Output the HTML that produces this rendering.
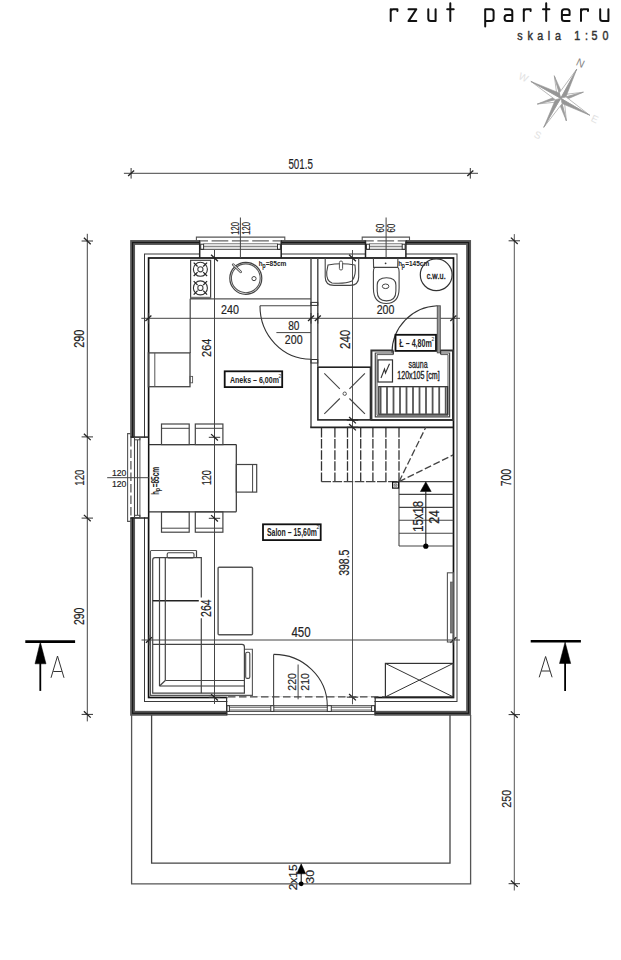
<!DOCTYPE html>
<html><head><meta charset="utf-8"><style>
html,body{margin:0;padding:0;background:#fff;}
svg{display:block;}
text{font-family:"Liberation Sans",sans-serif;}
</style></head><body>
<svg width="621" height="960" viewBox="0 0 621 960">
<rect x="0" y="0" width="621" height="960" fill="#fff"/>
<path transform="translate(390.70,21.1)" d="M0,0 V-11.8 M0,-9.3 Q0,-11.8 2.5,-11.8 H6.70 V-10.2" stroke="#111" stroke-width="2.0" fill="none" stroke-linejoin="round" stroke-linecap="round"/>
<path transform="translate(408.50,21.1)" d="M0,-11.8 H7.80 L0,0 H7.80" stroke="#111" stroke-width="2.0" fill="none" stroke-linejoin="round" stroke-linecap="round"/>
<path transform="translate(428.30,21.1)" d="M0,-11.8 V-2.5 Q0,0 2.5,0 H7.30 M7.30,-11.8 V0" stroke="#111" stroke-width="2.0" fill="none" stroke-linejoin="round" stroke-linecap="round"/>
<path transform="translate(447.20,21.1)" d="M3.10,-17.8 V0 M0,-11.8 H6.50" stroke="#111" stroke-width="2.0" fill="none" stroke-linejoin="round" stroke-linecap="round"/>
<path transform="translate(485.20,21.1)" d="M0,5.5 V-11.8 H5.90 Q8.40,-11.8 8.40,-9.3 V-2.5 Q8.40,0 5.90,0 H0" stroke="#111" stroke-width="2.0" fill="none" stroke-linejoin="round" stroke-linecap="round"/>
<path transform="translate(504.60,21.1)" d="M0.3,-11.8 H5.20 Q7.70,-11.8 7.70,-9.3 V0 H2.5 Q0,0 0,-2.5 V-3.6 Q0,-6.1 2.5,-6.1 H7.70" stroke="#111" stroke-width="2.0" fill="none" stroke-linejoin="round" stroke-linecap="round"/>
<path transform="translate(523.80,21.1)" d="M0,0 V-11.8 M0,-9.3 Q0,-11.8 2.5,-11.8 H6.80 V-10.2" stroke="#111" stroke-width="2.0" fill="none" stroke-linejoin="round" stroke-linecap="round"/>
<path transform="translate(543.00,21.1)" d="M3.20,-17.8 V0 M0,-11.8 H6.40" stroke="#111" stroke-width="2.0" fill="none" stroke-linejoin="round" stroke-linecap="round"/>
<path transform="translate(561.90,21.1)" d="M7.70,0 H2.5 Q0,0 0,-2.5 V-9.3 Q0,-11.8 2.5,-11.8 H5.20 Q7.70,-11.8 7.70,-9.3 V-6.1 H0" stroke="#111" stroke-width="2.0" fill="none" stroke-linejoin="round" stroke-linecap="round"/>
<path transform="translate(581.00,21.1)" d="M0,0 V-11.8 M0,-9.3 Q0,-11.8 2.5,-11.8 H7.00 V-10.2" stroke="#111" stroke-width="2.0" fill="none" stroke-linejoin="round" stroke-linecap="round"/>
<path transform="translate(600.20,21.1)" d="M0,-11.8 V-2.5 Q0,0 2.5,0 H8.20 M8.20,-11.8 V0" stroke="#111" stroke-width="2.0" fill="none" stroke-linejoin="round" stroke-linecap="round"/>
<text transform="translate(519.85,39.8) scale(0.85,1)" text-anchor="middle" font-size="12.6" fill="#333" stroke="#333" stroke-width="0.45">s</text>
<text transform="translate(530.10,39.8) scale(0.85,1)" text-anchor="middle" font-size="12.6" fill="#333" stroke="#333" stroke-width="0.45">k</text>
<text transform="translate(540.20,39.8) scale(0.85,1)" text-anchor="middle" font-size="12.6" fill="#333" stroke="#333" stroke-width="0.45">a</text>
<text transform="translate(548.90,39.8) scale(0.85,1)" text-anchor="middle" font-size="12.6" fill="#333" stroke="#333" stroke-width="0.45">l</text>
<text transform="translate(557.90,39.8) scale(0.85,1)" text-anchor="middle" font-size="12.6" fill="#333" stroke="#333" stroke-width="0.45">a</text>
<text transform="translate(577.20,39.8) scale(0.85,1)" text-anchor="middle" font-size="12.6" fill="#333" stroke="#333" stroke-width="0.45">1</text>
<text transform="translate(586.40,39.8) scale(0.85,1)" text-anchor="middle" font-size="12.6" fill="#333" stroke="#333" stroke-width="0.45">:</text>
<text transform="translate(594.50,39.8) scale(0.85,1)" text-anchor="middle" font-size="12.6" fill="#333" stroke="#333" stroke-width="0.45">5</text>
<text transform="translate(605.40,39.8) scale(0.85,1)" text-anchor="middle" font-size="12.6" fill="#333" stroke="#333" stroke-width="0.45">0</text>
<polygon points="560.70,98.30 557.03,96.26 554.30,75.80" stroke="#a8a8a8" stroke-width="0.8" fill="#fff" />
<polygon points="560.70,98.30 562.74,94.63 554.30,75.80" stroke="#9c9c9c" stroke-width="0.6" fill="#9c9c9c" />
<polygon points="560.70,98.30 562.79,94.66 583.30,92.20" stroke="#a8a8a8" stroke-width="0.8" fill="#fff" />
<polygon points="560.70,98.30 564.34,100.39 583.30,92.20" stroke="#9c9c9c" stroke-width="0.6" fill="#9c9c9c" />
<polygon points="560.70,98.30 564.31,100.45 566.40,120.90" stroke="#a8a8a8" stroke-width="0.8" fill="#fff" />
<polygon points="560.70,98.30 558.55,101.91 566.40,120.90" stroke="#9c9c9c" stroke-width="0.6" fill="#9c9c9c" />
<polygon points="560.70,98.30 558.52,101.89 537.40,104.00" stroke="#a8a8a8" stroke-width="0.8" fill="#fff" />
<polygon points="560.70,98.30 557.11,96.12 537.40,104.00" stroke="#9c9c9c" stroke-width="0.6" fill="#9c9c9c" />
<polygon points="560.70,98.30 559.16,93.02 576.80,69.00" stroke="#a8a8a8" stroke-width="0.8" fill="#fff" />
<polygon points="560.70,98.30 565.98,96.76 576.80,69.00" stroke="#969696" stroke-width="0.6" fill="#969696" />
<polygon points="560.70,98.30 566.02,96.90 589.70,115.20" stroke="#a8a8a8" stroke-width="0.8" fill="#fff" />
<polygon points="560.70,98.30 562.10,103.62 589.70,115.20" stroke="#969696" stroke-width="0.6" fill="#969696" />
<polygon points="560.70,98.30 562.10,103.62 543.80,127.30" stroke="#a8a8a8" stroke-width="0.8" fill="#fff" />
<polygon points="560.70,98.30 555.38,99.70 543.80,127.30" stroke="#969696" stroke-width="0.6" fill="#969696" />
<polygon points="560.70,98.30 555.40,99.76 530.90,81.40" stroke="#a8a8a8" stroke-width="0.8" fill="#fff" />
<polygon points="560.70,98.30 559.24,93.00 530.90,81.40" stroke="#969696" stroke-width="0.6" fill="#969696" />
<text x="577" y="67" font-size="11" fill="#888" transform="rotate(25 581 62)">N</text>
<text x="519" y="81" font-size="10" fill="#e2e2e2" transform="rotate(25 524 77)">W</text>
<text x="592" y="123" font-size="10" fill="#e2e2e2" transform="rotate(25 596 118)">E</text>
<text x="535" y="139" font-size="10" fill="#e2e2e2" transform="rotate(25 539 134)">S</text>
<line x1="123.90" y1="173.30" x2="478.00" y2="173.30" stroke="#444" stroke-width="1" />
<line x1="131.10" y1="168.00" x2="131.10" y2="178.60" stroke="#333" stroke-width="1" />
<line x1="128.10" y1="176.10" x2="134.10" y2="170.50" stroke="#222" stroke-width="1.3" />
<line x1="470.30" y1="168.00" x2="470.30" y2="178.60" stroke="#333" stroke-width="1" />
<line x1="467.30" y1="176.10" x2="473.30" y2="170.50" stroke="#222" stroke-width="1.3" />
<text transform="translate(288.80,169.30) scale(0.693,1)" x="-0.57 7.29 15.14 23.00 26.92" y="0" font-size="14.12" fill="#222" font-weight="normal" stroke="#222" stroke-width="0.18" >501.5</text>
<line x1="87.30" y1="233.80" x2="87.30" y2="721.40" stroke="#444" stroke-width="1" />
<line x1="81.60" y1="241.00" x2="93.00" y2="241.00" stroke="#333" stroke-width="1" />
<line x1="83.90" y1="237.80" x2="90.70" y2="244.20" stroke="#222" stroke-width="1.3" />
<line x1="81.60" y1="436.90" x2="93.00" y2="436.90" stroke="#333" stroke-width="1" />
<line x1="83.90" y1="433.70" x2="90.70" y2="440.10" stroke="#222" stroke-width="1.3" />
<line x1="81.60" y1="518.10" x2="93.00" y2="518.10" stroke="#333" stroke-width="1" />
<line x1="83.90" y1="514.90" x2="90.70" y2="521.30" stroke="#222" stroke-width="1.3" />
<line x1="81.60" y1="714.40" x2="93.00" y2="714.40" stroke="#333" stroke-width="1" />
<line x1="83.90" y1="711.20" x2="90.70" y2="717.60" stroke="#222" stroke-width="1.3" />
<text transform="translate(84.00,347.30) rotate(-90) scale(0.776,1)" x="-0.71 7.14 15.00" y="0" font-size="14.12" fill="#222" font-weight="normal" stroke="#222" stroke-width="0.18" >290</text>
<text transform="translate(84.00,485.00) rotate(-90) scale(0.720,1)" x="-1.02 6.44 13.90" y="0" font-size="13.42" fill="#222" font-weight="normal" stroke="#222" stroke-width="0.18" >120</text>
<text transform="translate(84.20,624.50) rotate(-90) scale(0.725,1)" x="-0.72 7.29 15.30" y="0" font-size="14.41" fill="#222" font-weight="normal" stroke="#222" stroke-width="0.18" >290</text>
<line x1="514.30" y1="234.10" x2="514.30" y2="890.50" stroke="#555" stroke-width="1" />
<line x1="508.60" y1="240.80" x2="520.00" y2="240.80" stroke="#333" stroke-width="1" />
<line x1="510.90" y1="237.60" x2="517.70" y2="244.00" stroke="#222" stroke-width="1.3" />
<line x1="508.60" y1="714.60" x2="520.00" y2="714.60" stroke="#333" stroke-width="1" />
<line x1="510.90" y1="711.40" x2="517.70" y2="717.80" stroke="#222" stroke-width="1.3" />
<line x1="508.60" y1="883.70" x2="520.00" y2="883.70" stroke="#333" stroke-width="1" />
<line x1="510.90" y1="880.50" x2="517.70" y2="886.90" stroke="#222" stroke-width="1.3" />
<text transform="translate(511.10,485.80) rotate(-90) scale(0.755,1)" x="-0.71 6.99 14.69" y="0" font-size="13.84" fill="#222" font-weight="normal" stroke="#222" stroke-width="0.18" >700</text>
<text transform="translate(511.40,807.20) rotate(-90) scale(0.781,1)" x="-0.69 6.93 14.55" y="0" font-size="13.70" fill="#222" font-weight="normal" stroke="#222" stroke-width="0.18" >250</text>
<line x1="25.30" y1="641.60" x2="75.10" y2="641.60" stroke="#000" stroke-width="2.6" />
<polygon points="40.30,642.00 35.00,663.80 46.00,663.80" stroke="#000" stroke-width="0.5" fill="#000" />
<line x1="40.30" y1="663.00" x2="40.30" y2="690.90" stroke="#000" stroke-width="1.8" />
<polyline points="51.00,677.80 57.50,656.00 64.00,677.80" stroke="#333" stroke-width="1" fill="none" />
<line x1="53.30" y1="671.50" x2="61.80" y2="671.50" stroke="#333" stroke-width="1" />
<line x1="530.70" y1="641.30" x2="580.90" y2="641.30" stroke="#000" stroke-width="2.6" />
<polygon points="565.10,642.00 559.50,663.50 570.70,663.50" stroke="#000" stroke-width="0.5" fill="#000" />
<line x1="565.10" y1="663.00" x2="565.10" y2="690.90" stroke="#000" stroke-width="1.8" />
<polyline points="539.20,677.30 545.60,656.50 552.10,677.30" stroke="#333" stroke-width="1" fill="none" />
<line x1="541.30" y1="671.00" x2="550.00" y2="671.00" stroke="#333" stroke-width="1" />
<rect x="132.60" y="242.50" width="336.00" height="470.80" stroke="#555" stroke-width="4.9" fill="none" />
<rect x="132.60" y="242.50" width="336.00" height="470.80" stroke="#1a1a1a" stroke-width="1.2" fill="none" />
<rect x="144.50" y="254.00" width="312.50" height="447.50" stroke="#3a3a3a" stroke-width="1.0" fill="none" />
<rect x="148.60" y="258.00" width="304.90" height="439.50" stroke="#111" stroke-width="1.7" fill="none" />
<polyline points="131.60,715.00 131.60,883.80 470.60,883.80 470.60,715.00" stroke="#555" stroke-width="1.3" fill="none" />
<polyline points="151.60,715.00 151.60,863.20 450.00,863.20 450.00,715.00" stroke="#444" stroke-width="1.3" fill="none" />
<polygon points="301.20,863.80 296.70,873.80 305.70,873.80" stroke="#000" stroke-width="0.5" fill="#000" />
<line x1="301.20" y1="873.00" x2="301.20" y2="883.00" stroke="#000" stroke-width="1" />
<circle cx="301.20" cy="883.80" r="2.40" stroke="none" stroke-width="0" fill="#000"/>
<text transform="translate(296.50,889.60) rotate(-90) scale(1.023,1)" x="-0.58 5.86 11.65 18.09" y="0" font-size="11.58" fill="#222" font-weight="normal" stroke="#222" stroke-width="0.18" >2x15</text>
<text transform="translate(314.30,883.20) rotate(-90) scale(1.103,1)" x="-0.43 5.85" y="0" font-size="11.30" fill="#222" font-weight="normal" stroke="#222" stroke-width="0.18" >30</text>
<rect x="227.40" y="696.30" width="147.00" height="20.20" stroke="none" stroke-width="0" fill="#fff" />
<rect x="199.70" y="239.50" width="81.50" height="17.50" stroke="none" stroke-width="0" fill="#fff" />
<polyline points="196.40,241.20 196.40,237.10 284.80,237.10 284.80,241.20" stroke="#555" stroke-width="1.1" fill="none" />
<line x1="199.70" y1="240.20" x2="199.70" y2="258.00" stroke="#222" stroke-width="1.5" />
<line x1="281.20" y1="240.20" x2="281.20" y2="258.00" stroke="#222" stroke-width="1.5" />
<line x1="199.90" y1="240.90" x2="281.00" y2="240.90" stroke="#666" stroke-width="1.4" stroke-dasharray="16.7 3.6" stroke-dashoffset="8.6"/>
<line x1="203.40" y1="243.80" x2="277.80" y2="243.80" stroke="#777" stroke-width="1.1" />
<line x1="203.40" y1="246.50" x2="277.80" y2="246.50" stroke="#888" stroke-width="1.7" />
<line x1="199.90" y1="249.40" x2="281.00" y2="249.40" stroke="#666" stroke-width="1.1" />
<rect x="200.70" y="244.20" width="2.90" height="5.20" stroke="#333" stroke-width="1.0" fill="none" />
<rect x="277.50" y="244.20" width="2.90" height="5.20" stroke="#333" stroke-width="1.0" fill="none" />
<line x1="240.40" y1="217.50" x2="240.40" y2="258.00" stroke="#444" stroke-width="1" />
<rect x="365.50" y="239.50" width="40.40" height="17.50" stroke="none" stroke-width="0" fill="#fff" />
<polyline points="362.20,241.20 362.20,237.10 409.50,237.10 409.50,241.20" stroke="#555" stroke-width="1.1" fill="none" />
<line x1="365.50" y1="240.20" x2="365.50" y2="258.00" stroke="#222" stroke-width="1.5" />
<line x1="405.90" y1="240.20" x2="405.90" y2="258.00" stroke="#222" stroke-width="1.5" />
<line x1="365.70" y1="240.90" x2="405.70" y2="240.90" stroke="#666" stroke-width="1.4" stroke-dasharray="16.7 3.6" stroke-dashoffset="8.6"/>
<line x1="369.20" y1="243.80" x2="402.50" y2="243.80" stroke="#777" stroke-width="1.1" />
<line x1="369.20" y1="246.50" x2="402.50" y2="246.50" stroke="#888" stroke-width="1.7" />
<line x1="365.70" y1="249.40" x2="405.70" y2="249.40" stroke="#666" stroke-width="1.1" />
<rect x="366.50" y="244.20" width="2.90" height="5.20" stroke="#333" stroke-width="1.0" fill="none" />
<rect x="402.20" y="244.20" width="2.90" height="5.20" stroke="#333" stroke-width="1.0" fill="none" />
<line x1="386.10" y1="217.50" x2="386.10" y2="258.00" stroke="#444" stroke-width="1" />
<text transform="translate(239.00,234.20) rotate(-90) scale(0.704,1)" x="-0.83 5.22 11.27" y="0" font-size="10.88" fill="#222" font-weight="normal" stroke="#222" stroke-width="0.18" >120</text>
<text transform="translate(250.10,234.20) rotate(-90) scale(0.678,1)" x="-0.86 5.42 11.71" y="0" font-size="11.30" fill="#222" font-weight="normal" stroke="#222" stroke-width="0.18" >120</text>
<text transform="translate(384.30,232.00) rotate(-90) scale(0.739,1)" x="-0.54 5.35" y="0" font-size="10.59" fill="#222" font-weight="normal" stroke="#222" stroke-width="0.18" >60</text>
<text transform="translate(395.30,232.00) rotate(-90) scale(0.739,1)" x="-0.54 5.35" y="0" font-size="10.59" fill="#222" font-weight="normal" stroke="#222" stroke-width="0.18" >60</text>
<rect x="129.50" y="437.80" width="18.10" height="79.60" stroke="none" stroke-width="0" fill="#fff" />
<polyline points="130.70,433.60 127.60,433.60 127.60,521.40 130.70,521.40" stroke="#555" stroke-width="1.1" fill="none" />
<line x1="130.50" y1="437.10" x2="148.60" y2="437.10" stroke="#222" stroke-width="1.5" />
<line x1="130.50" y1="518.00" x2="148.60" y2="518.00" stroke="#222" stroke-width="1.5" />
<line x1="130.90" y1="438.00" x2="130.90" y2="517.00" stroke="#666" stroke-width="1.4" stroke-dasharray="8.5 3"/>
<line x1="134.50" y1="437.50" x2="134.50" y2="517.50" stroke="#444" stroke-width="1.1" />
<line x1="137.50" y1="440.00" x2="137.50" y2="515.00" stroke="#444" stroke-width="1.1" />
<line x1="139.90" y1="437.50" x2="139.90" y2="517.50" stroke="#777" stroke-width="1.2" />
<rect x="134.50" y="437.50" width="5.40" height="2.30" stroke="#444" stroke-width="1" fill="none" />
<rect x="134.50" y="515.30" width="5.40" height="2.30" stroke="#444" stroke-width="1" fill="none" />
<line x1="107.20" y1="477.70" x2="148.80" y2="477.70" stroke="#444" stroke-width="1" />
<text transform="translate(112.60,475.50) scale(0.905,1)" x="-0.73 4.61 9.95" y="0" font-size="9.60" fill="#222" font-weight="normal" stroke="#222" stroke-width="0.18" >120</text>
<text transform="translate(112.60,487.00) scale(0.918,1)" x="-0.72 4.54 9.81" y="0" font-size="9.46" fill="#222" font-weight="normal" stroke="#222" stroke-width="0.18" >120</text>
<rect x="190.60" y="260.30" width="20.00" height="38.00" stroke="#444" stroke-width="1.2" fill="none" />
<circle cx="200.40" cy="269.30" r="7.00" stroke="#333" stroke-width="1.1" fill="none"/>
<circle cx="200.40" cy="269.30" r="2.60" stroke="#444" stroke-width="1.1" fill="none"/>
<line x1="193.70" y1="262.60" x2="197.60" y2="266.50" stroke="#222" stroke-width="1.2" />
<line x1="203.20" y1="272.10" x2="207.10" y2="276.00" stroke="#222" stroke-width="1.2" />
<line x1="193.70" y1="276.00" x2="197.60" y2="272.10" stroke="#222" stroke-width="1.2" />
<line x1="203.20" y1="266.50" x2="207.10" y2="262.60" stroke="#222" stroke-width="1.2" />
<circle cx="200.40" cy="287.90" r="7.00" stroke="#333" stroke-width="1.1" fill="none"/>
<circle cx="200.40" cy="287.90" r="2.60" stroke="#444" stroke-width="1.1" fill="none"/>
<line x1="193.70" y1="281.20" x2="197.60" y2="285.10" stroke="#222" stroke-width="1.2" />
<line x1="203.20" y1="290.70" x2="207.10" y2="294.60" stroke="#222" stroke-width="1.2" />
<line x1="193.70" y1="294.60" x2="197.60" y2="290.70" stroke="#222" stroke-width="1.2" />
<line x1="203.20" y1="285.10" x2="207.10" y2="281.20" stroke="#222" stroke-width="1.2" />
<rect x="190.60" y="296.80" width="20.00" height="1.70" stroke="none" stroke-width="0" fill="#777" />
<line x1="190.20" y1="298.80" x2="311.00" y2="298.80" stroke="#555" stroke-width="1.3" />
<line x1="190.20" y1="298.80" x2="190.20" y2="353.00" stroke="#444" stroke-width="1.2" />
<circle cx="245.80" cy="278.30" r="16.00" stroke="#444" stroke-width="1.2" fill="none"/>
<circle cx="245.80" cy="278.30" r="14.40" stroke="#555" stroke-width="1.1" fill="none"/>
<line x1="233.20" y1="264.60" x2="240.70" y2="271.90" stroke="#555" stroke-width="2.6" stroke-linecap="round"/>
<line x1="233.20" y1="264.60" x2="240.70" y2="271.90" stroke="#fff" stroke-width="1.0" stroke-linecap="round"/>
<circle cx="254.00" cy="278.60" r="2.10" stroke="#444" stroke-width="1" fill="none"/>
<rect x="148.40" y="352.90" width="41.60" height="33.80" stroke="#444" stroke-width="1.3" fill="none" />
<line x1="154.80" y1="353.00" x2="154.80" y2="386.70" stroke="#555" stroke-width="1" />
<rect x="190.00" y="376.40" width="2.60" height="6.40" stroke="#555" stroke-width="0.9" fill="none" />
<line x1="260.00" y1="305.80" x2="311.00" y2="305.80" stroke="#444" stroke-width="1.1" />
<path d="M 260 305.8 A 51 53 0 0 0 311 359.2" stroke="#333" stroke-width="1.1" fill="none" />
<text transform="translate(288.60,330.40) scale(0.851,1)" x="-0.52 6.08" y="0" font-size="11.86" fill="#222" font-weight="normal" stroke="#222" stroke-width="0.18" >80</text>
<line x1="276.40" y1="332.60" x2="311.00" y2="332.60" stroke="#444" stroke-width="1" />
<text transform="translate(285.40,344.00) scale(0.897,1)" x="-0.60 6.00 12.60" y="0" font-size="11.86" fill="#222" font-weight="normal" stroke="#222" stroke-width="0.18" >200</text>
<line x1="311.00" y1="258.00" x2="311.00" y2="427.20" stroke="#444" stroke-width="1.4" />
<line x1="317.80" y1="258.00" x2="317.80" y2="366.50" stroke="#444" stroke-width="1.4" />
<rect x="311.00" y="302.40" width="6.80" height="3.00" stroke="#333" stroke-width="1" fill="none" />
<rect x="311.00" y="359.50" width="6.80" height="3.50" stroke="#333" stroke-width="1" fill="none" />
<line x1="310.20" y1="427.40" x2="453.30" y2="427.40" stroke="#222" stroke-width="1.6" />
<line x1="148.60" y1="444.60" x2="236.30" y2="444.60" stroke="#333" stroke-width="1.2" />
<line x1="236.30" y1="444.60" x2="236.30" y2="511.80" stroke="#333" stroke-width="1.2" />
<line x1="148.60" y1="511.80" x2="236.30" y2="511.80" stroke="#333" stroke-width="1.2" />
<rect x="161.50" y="424.00" width="27.70" height="20.60" stroke="#444" stroke-width="1.2" fill="none" />
<line x1="161.50" y1="428.30" x2="189.20" y2="428.30" stroke="#444" stroke-width="1" />
<rect x="161.50" y="511.80" width="27.70" height="20.40" stroke="#444" stroke-width="1.2" fill="none" />
<line x1="161.50" y1="528.20" x2="189.20" y2="528.20" stroke="#444" stroke-width="1" />
<rect x="195.30" y="424.00" width="27.60" height="20.60" stroke="#444" stroke-width="1.2" fill="none" />
<line x1="195.30" y1="428.30" x2="222.90" y2="428.30" stroke="#444" stroke-width="1" />
<rect x="195.30" y="511.80" width="27.60" height="20.40" stroke="#444" stroke-width="1.2" fill="none" />
<line x1="195.30" y1="528.20" x2="222.90" y2="528.20" stroke="#444" stroke-width="1" />
<rect x="236.30" y="464.50" width="20.40" height="27.60" stroke="#444" stroke-width="1.2" fill="none" />
<line x1="252.60" y1="464.50" x2="252.60" y2="492.10" stroke="#444" stroke-width="1" />
<text transform="translate(159.20,487.10) rotate(-90) scale(0.653,1)" x="-0.42 5.44 11.02 16.59 22.17" y="0" font-size="10.03" fill="#222" font-weight="bold" >=85cm</text>
<text transform="translate(159.40,494.40) rotate(-90) scale(0.581,1)" x="-0.70" y="0" font-size="10.07" fill="#222" font-weight="bold" >h</text>
<text transform="translate(160.40,491.60) rotate(-90) scale(0.8,1)" x="0" y="0" font-size="7.20" fill="#222" font-weight="bold">p</text>
<polyline points="150.50,551.00 150.50,695.40 252.40,695.40 252.40,649.30 244.40,649.30" stroke="#555" stroke-width="1.1" fill="none" />
<line x1="150.50" y1="550.50" x2="196.50" y2="550.50" stroke="#555" stroke-width="1.1" />
<line x1="196.50" y1="550.50" x2="196.50" y2="557.60" stroke="#444" stroke-width="1.2" />
<rect x="167.20" y="552.70" width="26.80" height="5.20" stroke="#444" stroke-width="1.1" fill="none" rx="1.5"/>
<path d="M 152.7 601 L 152.7 560 Q 152.7 557.6 155 557.6 L 201.3 557.6 L 201.3 597.4" stroke="#444" stroke-width="1.2" fill="none" />
<line x1="201.30" y1="618.20" x2="201.30" y2="644.40" stroke="#444" stroke-width="1.2" />
<line x1="152.70" y1="600.80" x2="198.80" y2="600.80" stroke="#222" stroke-width="1.6" />
<line x1="159.50" y1="557.60" x2="159.50" y2="686.00" stroke="#444" stroke-width="1.2" />
<line x1="165.30" y1="557.60" x2="165.30" y2="680.50" stroke="#444" stroke-width="1.2" />
<path d="M 152.7 601 L 152.7 693.2 L 244.4 693.2 L 244.4 647 Q 244.4 644.4 242 644.4 L 152.7 644.4" stroke="#444" stroke-width="1.2" fill="none" />
<line x1="159.50" y1="686.00" x2="244.40" y2="686.00" stroke="#333" stroke-width="1.2" />
<line x1="165.30" y1="680.50" x2="244.40" y2="680.50" stroke="#444" stroke-width="1.2" />
<line x1="159.50" y1="686.00" x2="165.30" y2="680.50" stroke="#444" stroke-width="1.2" />
<line x1="201.30" y1="644.40" x2="201.30" y2="693.20" stroke="#444" stroke-width="1.2" />
<rect x="245.70" y="652.20" width="4.10" height="26.20" stroke="#444" stroke-width="1.1" fill="none" rx="1.5"/>
<rect x="218.10" y="567.30" width="34.40" height="67.40" stroke="#555" stroke-width="1.4" fill="none" rx="1"/>
<line x1="141.30" y1="318.30" x2="460.00" y2="318.30" stroke="#444" stroke-width="1" />
<line x1="148.40" y1="313.00" x2="148.40" y2="323.60" stroke="#333" stroke-width="1" />
<line x1="145.40" y1="321.10" x2="151.40" y2="315.50" stroke="#222" stroke-width="1.3" />
<line x1="311.00" y1="313.00" x2="311.00" y2="323.60" stroke="#333" stroke-width="1" />
<line x1="308.00" y1="321.10" x2="314.00" y2="315.50" stroke="#222" stroke-width="1.3" />
<line x1="317.80" y1="313.00" x2="317.80" y2="323.60" stroke="#333" stroke-width="1" />
<line x1="314.80" y1="321.10" x2="320.80" y2="315.50" stroke="#222" stroke-width="1.3" />
<line x1="453.30" y1="313.00" x2="453.30" y2="323.60" stroke="#333" stroke-width="1" />
<line x1="450.30" y1="321.10" x2="456.30" y2="315.50" stroke="#222" stroke-width="1.3" />
<text transform="translate(221.60,314.40) scale(0.847,1)" x="-0.64 6.43 13.50" y="0" font-size="12.71" fill="#222" font-weight="normal" stroke="#222" stroke-width="0.18" >240</text>
<text transform="translate(377.20,314.40) scale(0.837,1)" x="-0.64 6.43 13.50" y="0" font-size="12.71" fill="#222" font-weight="normal" stroke="#222" stroke-width="0.18" >200</text>
<line x1="214.50" y1="250.00" x2="214.50" y2="704.00" stroke="#444" stroke-width="1" />
<line x1="208.80" y1="258.00" x2="220.20" y2="258.00" stroke="#333" stroke-width="1" />
<line x1="211.10" y1="254.80" x2="217.90" y2="261.20" stroke="#222" stroke-width="1.3" />
<line x1="208.80" y1="437.30" x2="220.20" y2="437.30" stroke="#333" stroke-width="1" />
<line x1="211.10" y1="434.10" x2="217.90" y2="440.50" stroke="#222" stroke-width="1.3" />
<line x1="208.80" y1="518.30" x2="220.20" y2="518.30" stroke="#333" stroke-width="1" />
<line x1="211.10" y1="515.10" x2="217.90" y2="521.50" stroke="#222" stroke-width="1.3" />
<line x1="208.80" y1="697.30" x2="220.20" y2="697.30" stroke="#333" stroke-width="1" />
<line x1="211.10" y1="694.10" x2="217.90" y2="700.50" stroke="#222" stroke-width="1.3" />
<text transform="translate(210.90,356.40) rotate(-90) scale(0.834,1)" x="-0.66 6.64 13.95" y="0" font-size="13.14" fill="#222" font-weight="normal" stroke="#222" stroke-width="0.18" >264</text>
<text transform="translate(210.70,484.60) rotate(-90) scale(0.667,1)" x="-1.04 6.58 14.20" y="0" font-size="13.70" fill="#222" font-weight="normal" stroke="#222" stroke-width="0.18" >120</text>
<text transform="translate(211.20,616.40) rotate(-90) scale(0.706,1)" x="-0.75 7.57 15.90" y="0" font-size="14.97" fill="#222" font-weight="normal" stroke="#222" stroke-width="0.18" >264</text>
<line x1="352.50" y1="250.00" x2="352.50" y2="704.30" stroke="#555" stroke-width="1" />
<line x1="346.80" y1="258.00" x2="358.20" y2="258.00" stroke="#333" stroke-width="1" />
<line x1="349.10" y1="254.80" x2="355.90" y2="261.20" stroke="#222" stroke-width="1.3" />
<line x1="346.80" y1="420.20" x2="358.20" y2="420.20" stroke="#333" stroke-width="1" />
<line x1="349.10" y1="417.00" x2="355.90" y2="423.40" stroke="#222" stroke-width="1.3" />
<line x1="346.80" y1="427.20" x2="358.20" y2="427.20" stroke="#333" stroke-width="1" />
<line x1="349.10" y1="424.00" x2="355.90" y2="430.40" stroke="#222" stroke-width="1.3" />
<line x1="346.80" y1="697.20" x2="358.20" y2="697.20" stroke="#333" stroke-width="1" />
<line x1="349.10" y1="694.00" x2="355.90" y2="700.40" stroke="#222" stroke-width="1.3" />
<text transform="translate(349.50,348.50) rotate(-90) scale(0.801,1)" x="-0.73 7.36 15.45" y="0" font-size="14.55" fill="#222" font-weight="normal" stroke="#222" stroke-width="0.18" >240</text>
<text transform="translate(349.20,575.40) rotate(-90) scale(0.675,1)" x="-0.59 8.05 16.69 25.33 29.65" y="0" font-size="15.54" fill="#222" font-weight="normal" stroke="#222" stroke-width="0.18" >398.5</text>
<line x1="141.50" y1="640.00" x2="460.00" y2="640.00" stroke="#444" stroke-width="1" />
<line x1="148.90" y1="634.70" x2="148.90" y2="645.30" stroke="#333" stroke-width="1" />
<line x1="145.90" y1="642.80" x2="151.90" y2="637.20" stroke="#222" stroke-width="1.3" />
<line x1="453.30" y1="634.70" x2="453.30" y2="645.30" stroke="#333" stroke-width="1" />
<line x1="450.30" y1="642.80" x2="456.30" y2="637.20" stroke="#222" stroke-width="1.3" />
<text transform="translate(291.70,636.70) scale(0.784,1)" x="-0.34 7.83 16.00" y="0" font-size="14.69" fill="#222" font-weight="normal" stroke="#222" stroke-width="0.18" >450</text>
<rect x="224.70" y="371.30" width="57.50" height="15.80" stroke="#111" stroke-width="1.8" fill="#fff" />
<text transform="translate(230.10,383.30) scale(0.780,1)" x="-0.23 6.30 11.82 16.85 21.88 26.91 29.42 34.45 36.96 41.98 44.50 49.52 54.55" y="0" font-size="9.04" fill="#222" font-weight="bold" >Aneks – 6,00m</text>
<text x="278.6" y="377.6" font-size="5" fill="#222">2</text>
<rect x="263.00" y="524.30" width="57.70" height="15.80" stroke="#111" stroke-width="1.8" fill="#fff" />
<text transform="translate(267.20,535.70) scale(0.679,1)" x="-0.29 6.49 12.15 14.97 21.18 27.40 30.22 35.88 38.70 44.36 50.01 52.84 58.49 64.15" y="0" font-size="10.17" fill="#222" font-weight="bold" >Salon – 15,60m</text>
<text x="316.6" y="529.4" font-size="5" fill="#222">2</text>
<path d="M 325.2 258 L 325.2 277 Q 325.2 285.4 334 285.4 L 350 285.4 Q 358.7 285.4 358.7 277 L 358.7 258" stroke="#444" stroke-width="1.1" fill="none" />
<path d="M 328 265 Q 341.2 262.6 355 265 Q 356.5 275 352 281 Q 345 284 332 283 Q 326.2 281 326.7 272 Z" stroke="#444" stroke-width="1.1" fill="none" />
<rect x="339.40" y="261.00" width="3.20" height="9.00" stroke="#555" stroke-width="1" fill="#fff" rx="1.5"/>
<path d="M 373.4 258 L 373.6 267.4 L 397.7 267.4 L 397.9 258" stroke="#444" stroke-width="1.1" fill="none" />
<circle cx="385.60" cy="263.30" r="0.90" stroke="none" stroke-width="0" fill="#333"/>
<path d="M 374.5 267.6 Q 373.4 268.5 373.4 272 L 373.4 288 Q 373.4 303.5 386.2 303.5 Q 399.1 303.5 399.1 288 L 399.1 272 Q 399.1 268.5 398 267.6" stroke="#444" stroke-width="1.1" fill="none" />
<path d="M 386.5 277.7 Q 395.9 277.7 395.9 285 L 395.9 291 Q 395.9 300.9 386.5 300.9 Q 377.2 300.9 377.2 291 L 377.2 285 Q 377.2 277.7 386.5 277.7 Z" stroke="#444" stroke-width="1.1" fill="none" />
<ellipse cx="385.6" cy="286.3" rx="3.3" ry="2.3" stroke="#444" stroke-width="1" fill="none"/>
<text transform="translate(259.20,266.30) scale(0.800,1)" x="-0.54" y="0" font-size="7.72" fill="#222" font-weight="bold" >h</text>
<text transform="translate(262.20,268.30) scale(0.8,1)" x="0" y="0" font-size="6.90" fill="#222" font-weight="bold">p</text>
<text transform="translate(266.00,266.30) scale(0.971,1)" x="-0.28 3.68 7.45 11.22 14.99" y="0" font-size="6.78" fill="#222" font-weight="bold" >=85cm</text>
<text transform="translate(398.60,266.30) scale(0.800,1)" x="-0.54" y="0" font-size="7.72" fill="#222" font-weight="bold" >h</text>
<text transform="translate(401.60,268.30) scale(0.8,1)" x="0" y="0" font-size="6.90" fill="#222" font-weight="bold">p</text>
<text transform="translate(405.40,266.30) scale(0.960,1)" x="-0.28 3.68 7.45 11.22 14.99 18.76" y="0" font-size="6.78" fill="#222" font-weight="bold" >=145cm</text>
<circle cx="436.20" cy="274.80" r="15.90" stroke="#333" stroke-width="1.2" fill="none"/>
<text transform="translate(427.00,278.80) scale(0.875,1)" x="-0.35 3.80 6.10 12.10 14.41 19.02" y="0" font-size="8.30" fill="#222" font-weight="normal" stroke="#222" stroke-width="0.35" >c.w.u.</text>
<rect x="437.30" y="305.80" width="3.00" height="47.00" stroke="#555" stroke-width="1" fill="#999" />
<path d="M 437.3 305.8 A 47 47 0 0 0 392 352.8" stroke="#333" stroke-width="1.1" fill="none" />
<rect x="395.50" y="334.80" width="40.50" height="16.10" stroke="#111" stroke-width="1.8" fill="#fff" />
<text transform="translate(399.30,347.20) scale(0.642,1)" x="0.00 6.82 9.92 16.12 19.22 25.43 28.53 34.73 40.94" y="0" font-size="11.16" fill="#222" font-weight="bold" >Ł – 4,80m</text>
<text x="431.6" y="341" font-size="5" fill="#222">2</text>
<rect x="317.90" y="367.20" width="52.60" height="52.70" stroke="#222" stroke-width="1.6" fill="none" />
<line x1="324.30" y1="373.30" x2="339.80" y2="388.80" stroke="#444" stroke-width="1.1" />
<line x1="349.40" y1="398.50" x2="364.90" y2="413.90" stroke="#444" stroke-width="1.1" />
<line x1="364.90" y1="373.30" x2="349.40" y2="388.80" stroke="#444" stroke-width="1.1" />
<line x1="339.80" y1="398.50" x2="324.30" y2="413.90" stroke="#444" stroke-width="1.1" />
<circle cx="344.70" cy="393.70" r="1.70" stroke="#555" stroke-width="1" fill="none"/>
<path d="M 393.3 350.5 L 371.4 350.5 L 371.4 420 L 453 420 L 453 350.5 L 440.3 350.5" stroke="#333" stroke-width="2.0" fill="none" />
<path d="M 393.3 353 L 375.3 353 L 375.3 416.8 L 449.6 416.8 L 449.6 353 L 441 353" stroke="#444" stroke-width="1.2" fill="none" />
<path d="M 393.3 354.6 L 377 354.6 L 377 415.3 L 448 415.3 L 448 354.6 L 441 354.6" stroke="#555" stroke-width="1.0" fill="none" />
<line x1="393.30" y1="350.50" x2="393.30" y2="354.60" stroke="#333" stroke-width="1.2" />
<line x1="440.60" y1="350.50" x2="440.60" y2="354.60" stroke="#333" stroke-width="1.2" />
<rect x="378.00" y="359.90" width="14.50" height="22.10" stroke="#333" stroke-width="1.2" fill="none" />
<polyline points="381.00,378.00 384.50,369.00 385.50,373.00 389.50,363.70" stroke="#333" stroke-width="1.1" fill="none" />
<text transform="translate(408.60,367.60) scale(0.647,1)" x="-0.30 5.17 11.25 17.34 23.43" y="0" font-size="10.94" fill="#222" font-weight="normal" stroke="#222" stroke-width="0.3" >sauna</text>
<text transform="translate(397.90,379.20) scale(0.703,1)" x="-0.76 4.81 10.39 15.97 20.98 26.56 32.14 37.71 40.50 43.29 48.30 56.65" y="0" font-size="10.03" fill="#222" font-weight="normal" stroke="#222" stroke-width="0.35" >120x105 [cm]</text>
<rect x="378.80" y="386.70" width="68.80" height="27.50" stroke="#333" stroke-width="1.3" fill="none" />
<line x1="380.60" y1="387.00" x2="380.60" y2="414.00" stroke="#555" stroke-width="1.8" />
<line x1="387.00" y1="387.00" x2="387.00" y2="414.00" stroke="#555" stroke-width="1.8" />
<line x1="393.50" y1="387.00" x2="393.50" y2="414.00" stroke="#555" stroke-width="1.8" />
<line x1="400.00" y1="387.00" x2="400.00" y2="414.00" stroke="#555" stroke-width="1.8" />
<line x1="406.50" y1="387.00" x2="406.50" y2="414.00" stroke="#555" stroke-width="1.8" />
<line x1="413.00" y1="387.00" x2="413.00" y2="414.00" stroke="#555" stroke-width="1.8" />
<line x1="419.50" y1="387.00" x2="419.50" y2="414.00" stroke="#555" stroke-width="1.8" />
<line x1="426.00" y1="387.00" x2="426.00" y2="414.00" stroke="#555" stroke-width="1.8" />
<line x1="432.60" y1="387.00" x2="432.60" y2="414.00" stroke="#555" stroke-width="1.8" />
<line x1="439.20" y1="387.00" x2="439.20" y2="414.00" stroke="#555" stroke-width="1.8" />
<line x1="445.70" y1="387.00" x2="445.70" y2="414.00" stroke="#555" stroke-width="1.8" />
<line x1="321.50" y1="428.00" x2="321.50" y2="481.70" stroke="#333" stroke-width="1.3" stroke-dasharray="9.5 1.6"/>
<line x1="334.90" y1="428.00" x2="334.90" y2="481.70" stroke="#333" stroke-width="1.3" stroke-dasharray="9.5 1.6"/>
<line x1="347.50" y1="428.00" x2="347.50" y2="481.70" stroke="#333" stroke-width="1.3" stroke-dasharray="9.5 1.6"/>
<line x1="360.70" y1="428.00" x2="360.70" y2="481.70" stroke="#333" stroke-width="1.3" stroke-dasharray="9.5 1.6"/>
<line x1="372.90" y1="428.00" x2="372.90" y2="481.70" stroke="#333" stroke-width="1.3" stroke-dasharray="9.5 1.6"/>
<line x1="385.90" y1="428.00" x2="385.90" y2="481.70" stroke="#333" stroke-width="1.3" stroke-dasharray="9.5 1.6"/>
<line x1="399.00" y1="428.00" x2="399.00" y2="481.70" stroke="#333" stroke-width="1.3" stroke-dasharray="9.5 1.6"/>
<line x1="321.50" y1="481.70" x2="399.00" y2="481.70" stroke="#444" stroke-width="1.3" stroke-dasharray="9.5 1.6"/>
<line x1="399.00" y1="481.70" x2="425.80" y2="427.30" stroke="#444" stroke-width="1.3" stroke-dasharray="7 2.6"/>
<line x1="399.00" y1="481.70" x2="453.30" y2="454.90" stroke="#444" stroke-width="1.3" stroke-dasharray="7 2.6"/>
<line x1="399.00" y1="481.60" x2="453.30" y2="481.60" stroke="#444" stroke-width="1.1" />
<line x1="399.00" y1="494.40" x2="453.30" y2="494.40" stroke="#444" stroke-width="1.1" />
<line x1="399.00" y1="507.40" x2="453.30" y2="507.40" stroke="#444" stroke-width="1.1" />
<line x1="399.00" y1="520.30" x2="453.30" y2="520.30" stroke="#444" stroke-width="1.1" />
<line x1="399.00" y1="533.20" x2="453.30" y2="533.20" stroke="#444" stroke-width="1.1" />
<line x1="399.00" y1="546.00" x2="453.30" y2="546.00" stroke="#444" stroke-width="1.1" />
<line x1="399.00" y1="481.60" x2="399.00" y2="546.00" stroke="#444" stroke-width="1.1" />
<rect x="392.60" y="482.10" width="6.00" height="6.00" stroke="#111" stroke-width="1.2" fill="#fff" />
<circle cx="395.60" cy="485.10" r="1.60" stroke="#444" stroke-width="0.6" fill="none"/>
<line x1="394.40" y1="483.90" x2="396.80" y2="486.30" stroke="#444" stroke-width="0.6" />
<line x1="396.80" y1="483.90" x2="394.40" y2="486.30" stroke="#444" stroke-width="0.6" />
<polygon points="425.80,481.80 420.40,491.50 431.20,491.50" stroke="#000" stroke-width="0.5" fill="#000" />
<line x1="425.80" y1="491.00" x2="425.80" y2="546.00" stroke="#222" stroke-width="1.1" />
<circle cx="425.80" cy="546.20" r="2.60" stroke="none" stroke-width="0" fill="#000"/>
<text transform="translate(423.20,530.90) rotate(-90) scale(0.781,1)" x="-1.11 6.98 15.07 22.35 30.44" y="0" font-size="14.55" fill="#222" font-weight="normal" stroke="#222" stroke-width="0.18" >15x18</text>
<text transform="translate(439.40,523.20) rotate(-90) scale(0.902,1)" x="-0.70 7.00" y="0" font-size="13.84" fill="#222" font-weight="normal" stroke="#222" stroke-width="0.18" >24</text>
<rect x="447.40" y="572.80" width="6.10" height="69.20" stroke="#555" stroke-width="1.1" fill="none" />
<rect x="450.30" y="582.00" width="2.90" height="51.00" stroke="#555" stroke-width="0.6" fill="#777" />
<rect x="385.40" y="663.40" width="67.80" height="33.50" stroke="#333" stroke-width="1.2" fill="none" />
<line x1="385.40" y1="663.40" x2="453.20" y2="696.90" stroke="#333" stroke-width="1" />
<line x1="385.40" y1="696.90" x2="453.20" y2="663.40" stroke="#333" stroke-width="1" />
<line x1="228.00" y1="696.90" x2="385.00" y2="696.90" stroke="#444" stroke-width="1.3" stroke-dasharray="7.5 3.5"/>
<rect x="226.90" y="705.70" width="147.70" height="5.70" stroke="#444" stroke-width="1" fill="none" />
<line x1="229.20" y1="707.30" x2="372.00" y2="707.30" stroke="#555" stroke-width="0.9" />
<line x1="229.20" y1="710.00" x2="372.00" y2="710.00" stroke="#555" stroke-width="0.9" />
<rect x="226.90" y="705.70" width="2.50" height="5.70" stroke="#333" stroke-width="1" fill="#fff" />
<rect x="270.80" y="705.70" width="3.00" height="5.70" stroke="#333" stroke-width="1" fill="#fff" />
<rect x="327.30" y="705.70" width="4.00" height="5.70" stroke="#333" stroke-width="1" fill="#fff" />
<rect x="371.60" y="705.70" width="3.00" height="5.70" stroke="#333" stroke-width="1" fill="#fff" />
<line x1="226.60" y1="714.60" x2="375.00" y2="714.60" stroke="#555" stroke-width="1" />
<line x1="226.60" y1="697.00" x2="226.60" y2="715.00" stroke="#333" stroke-width="1.2" />
<line x1="375.20" y1="697.00" x2="375.20" y2="715.00" stroke="#333" stroke-width="1.2" />
<line x1="273.60" y1="654.40" x2="273.60" y2="705.70" stroke="#444" stroke-width="1.1" />
<path d="M 273.6 654.4 A 53.5 51.5 0 0 1 327.3 705.7" stroke="#333" stroke-width="1.1" fill="none" />
<text transform="translate(295.80,690.20) rotate(-90) scale(0.960,1)" x="-0.55 5.57 11.70" y="0" font-size="11.02" fill="#222" font-weight="normal" stroke="#222" stroke-width="0.18" >220</text>
<text transform="translate(308.60,690.20) rotate(-90) scale(0.902,1)" x="-0.59 5.93 12.45" y="0" font-size="11.72" fill="#222" font-weight="normal" stroke="#222" stroke-width="0.18" >210</text>
<line x1="298.10" y1="664.50" x2="298.10" y2="699.30" stroke="#444" stroke-width="1" />
</svg></body></html>
